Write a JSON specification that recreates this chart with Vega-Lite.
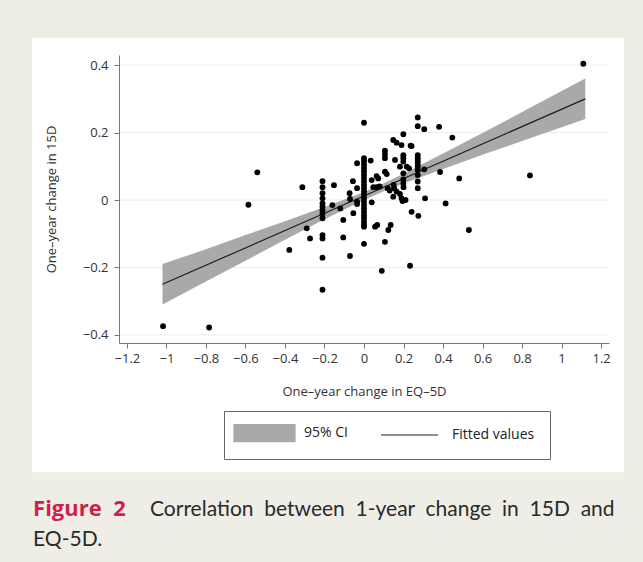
{
  "$schema": "https://vega.github.io/schema/vega-lite/v6.json",
  "autosize": {"type": "none"},
  "width": 490,
  "height": 288,
  "padding": {"left": 119, "top": 55, "right": 34, "bottom": 219},
  "background": "#eeeee6",
  "config": {
    "view": {"stroke": null},
    "axis": {"domainColor": "#777777", "tickColor": "#777777", "labelColor": "#333333", "titleColor": "#333333", "labelFont": "Open Sans", "titleFont": "Open Sans", "labelFontSize": 13, "titleFontSize": 13, "titleFontWeight": "normal", "tickSize": 5, "zindex": 1, "grid": false},
    "legend": {"labelFont": "Open Sans", "labelFontSize": 14, "labelColor": "#222222"}
  },
  "datasets": {
    "points": [
      {"x": -1.017, "y": -0.374}, {"x": -0.784, "y": -0.378}, {"x": -0.585, "y": -0.014}, {"x": -0.54, "y": 0.082},
      {"x": -0.378, "y": -0.148}, {"x": -0.312, "y": 0.038}, {"x": -0.29, "y": -0.084}, {"x": -0.273, "y": -0.114},
      {"x": 0.84, "y": 0.073}, {"x": 1.11, "y": 0.404}, {"x": 0.531, "y": -0.089}, {"x": 0.413, "y": -0.01},
      {"x": 0.482, "y": 0.064}, {"x": 0.447, "y": 0.185}, {"x": 0.385, "y": 0.083}, {"x": 0.38, "y": 0.217},
      {"x": -0.21, "y": 0.056}, {"x": -0.21, "y": 0.038}, {"x": -0.21, "y": 0.02}, {"x": -0.21, "y": 0.005},
      {"x": -0.21, "y": -0.01}, {"x": -0.21, "y": -0.02}, {"x": -0.21, "y": -0.03}, {"x": -0.21, "y": -0.04},
      {"x": -0.21, "y": -0.054}, {"x": -0.21, "y": -0.104}, {"x": -0.21, "y": -0.114}, {"x": -0.21, "y": -0.171},
      {"x": -0.21, "y": -0.266},
      {"x": -0.152, "y": 0.044}, {"x": -0.16, "y": -0.015}, {"x": -0.12, "y": -0.025}, {"x": -0.105, "y": -0.059},
      {"x": -0.105, "y": -0.111}, {"x": -0.071, "y": 0.003}, {"x": -0.073, "y": 0.02}, {"x": -0.056, "y": 0.056},
      {"x": -0.054, "y": -0.039}, {"x": -0.071, "y": -0.166}, {"x": -0.035, "y": -0.005}, {"x": -0.035, "y": -0.012},
      {"x": -0.035, "y": 0.109}, {"x": -0.035, "y": 0.035},
      {"x": 0, "y": 0.124}, {"x": 0, "y": 0.115}, {"x": 0, "y": 0.105}, {"x": 0, "y": 0.095}, {"x": 0, "y": 0.085},
      {"x": 0, "y": 0.075}, {"x": 0, "y": 0.065}, {"x": 0, "y": 0.055}, {"x": 0, "y": 0.045}, {"x": 0, "y": 0.035},
      {"x": 0, "y": 0.025}, {"x": 0, "y": 0.015}, {"x": 0, "y": 0.005}, {"x": 0, "y": -0.005}, {"x": 0, "y": -0.015},
      {"x": 0, "y": -0.025}, {"x": 0, "y": -0.035}, {"x": 0, "y": -0.045}, {"x": 0, "y": -0.054}, {"x": 0, "y": -0.064},
      {"x": 0, "y": -0.072}, {"x": 0, "y": -0.079}, {"x": 0, "y": -0.13}, {"x": 0, "y": 0.229},
      {"x": 0.034, "y": 0.117}, {"x": 0.039, "y": 0.059}, {"x": 0.047, "y": 0.038}, {"x": 0.039, "y": -0.007},
      {"x": 0.064, "y": 0.071}, {"x": 0.072, "y": 0.064}, {"x": 0.064, "y": 0.038}, {"x": 0.079, "y": 0.04},
      {"x": 0.056, "y": -0.079}, {"x": 0.067, "y": -0.074}, {"x": 0.106, "y": 0.146}, {"x": 0.106, "y": 0.135},
      {"x": 0.106, "y": 0.124}, {"x": 0.106, "y": 0.084}, {"x": 0.115, "y": 0.077}, {"x": 0.12, "y": 0.035},
      {"x": 0.13, "y": 0.028}, {"x": 0.123, "y": -0.089}, {"x": 0.135, "y": -0.074}, {"x": 0.106, "y": -0.124},
      {"x": 0.09, "y": -0.21}, {"x": 0.148, "y": 0.178}, {"x": 0.165, "y": 0.17}, {"x": 0.19, "y": 0.163},
      {"x": 0.157, "y": 0.119}, {"x": 0.153, "y": 0.035}, {"x": 0.165, "y": 0.025}, {"x": 0.182, "y": 0.018},
      {"x": 0.148, "y": 0.01}, {"x": 0.182, "y": 0.099}, {"x": 0.216, "y": 0.099}, {"x": 0.199, "y": 0.195},
      {"x": 0.199, "y": 0.133}, {"x": 0.199, "y": 0.124}, {"x": 0.199, "y": 0.114}, {"x": 0.199, "y": 0.079},
      {"x": 0.199, "y": 0.061}, {"x": 0.199, "y": 0.049}, {"x": 0.19, "y": 0.005}, {"x": 0.195, "y": -0.003},
      {"x": 0.21, "y": 0.0}, {"x": 0.241, "y": 0.16}, {"x": 0.233, "y": -0.195}, {"x": 0.241, "y": -0.035},
      {"x": 0.272, "y": 0.245}, {"x": 0.272, "y": 0.219}, {"x": 0.305, "y": 0.21}, {"x": 0.272, "y": 0.133},
      {"x": 0.272, "y": 0.124}, {"x": 0.272, "y": 0.115}, {"x": 0.272, "y": 0.107}, {"x": 0.272, "y": 0.099},
      {"x": 0.272, "y": 0.089}, {"x": 0.272, "y": 0.074}, {"x": 0.272, "y": 0.055}, {"x": 0.272, "y": 0.035},
      {"x": 0.275, "y": -0.047}, {"x": 0.305, "y": 0.091}, {"x": 0.309, "y": 0.005}, {"x": 0.228, "y": 0.094},
      {"x": 0.236, "y": 0.161}, {"x": 0.15, "y": 0.045}, {"x": 0.2, "y": 0.038}
    ],
    "band": [
      {"x": -1.02, "lo": -0.31, "hi": -0.19, "series": "95% CI"},
      {"x": -0.8, "lo": -0.242, "hi": -0.146, "series": "95% CI"},
      {"x": -0.6, "lo": -0.18, "hi": -0.104, "series": "95% CI"},
      {"x": -0.4, "lo": -0.118, "hi": -0.063, "series": "95% CI"},
      {"x": -0.2, "lo": -0.057, "hi": -0.021, "series": "95% CI"},
      {"x": 0, "lo": 0.0, "hi": 0.024, "series": "95% CI"},
      {"x": 0.1, "lo": 0.026, "hi": 0.05, "series": "95% CI"},
      {"x": 0.2, "lo": 0.049, "hi": 0.078, "series": "95% CI"},
      {"x": 0.4, "lo": 0.092, "hi": 0.138, "series": "95% CI"},
      {"x": 0.6, "lo": 0.134, "hi": 0.199, "series": "95% CI"},
      {"x": 0.8, "lo": 0.175, "hi": 0.261, "series": "95% CI"},
      {"x": 1.0, "lo": 0.216, "hi": 0.323, "series": "95% CI"},
      {"x": 1.12, "lo": 0.24, "hi": 0.36, "series": "95% CI"}
    ],
    "fit": [
      {"x": -1.02, "y": -0.25, "series": "Fitted values"},
      {"x": 1.12, "y": 0.3, "series": "Fitted values"}
    ],
    "grid": [{"g": -0.4}, {"g": -0.2}, {"g": 0}, {"g": 0.2}, {"g": 0.4}],
    "one": [{}]
  },
  "layer": [
    {
      "data": {"name": "one"},
      "mark": {"type": "rect", "fill": "#ffffff", "clip": false},
      "encoding": {
        "x": {"datum": -1.68, "type": "quantitative", "scale": {"domain": [-1.24, 1.24], "nice": false, "zero": false},
          "axis": {"values": [-1.2, -1, -0.8, -0.6, -0.4, -0.2, 0, 0.2, 0.4, 0.6, 0.8, 1, 1.2], "format": "~g", "title": "One–year change in EQ–5D", "labelPadding": 4, "titlePadding": 20, "zindex": 2}},
        "x2": {"datum": 1.316},
        "y": {"datum": 0.4804, "type": "quantitative", "scale": {"domain": [-0.424, 0.43], "nice": false, "zero": false},
          "axis": {"values": [-0.4, -0.2, 0, 0.2, 0.4], "format": "~g", "title": "One–year change in 15D", "labelPadding": 6, "titlePadding": 24, "zindex": 2}},
        "y2": {"datum": -0.807}
      }
    },
    {
      "data": {"name": "grid"},
      "mark": {"type": "rule", "color": "#ececec", "strokeWidth": 1},
      "encoding": {"y": {"field": "g", "type": "quantitative"}}
    },
    {
      "data": {"name": "band"},
      "mark": {"type": "area", "opacity": 1},
      "encoding": {
        "x": {"field": "x", "type": "quantitative"},
        "y": {"field": "lo", "type": "quantitative"},
        "y2": {"field": "hi"},
        "color": {"field": "series", "type": "nominal",
          "scale": {"domain": ["95% CI", "Fitted values"], "range": ["#a9a9a9", "#1e1e1e"]},
          "legend": {"title": null, "orient": "none", "legendX": 105, "legendY": 356, "direction": "horizontal",
            "padding": 15, "strokeColor": "#666666", "fillColor": "#ffffff", "cornerRadius": 0,
            "symbolSize": 100, "labelOffset": 51, "columnPadding": 30,
            "encode": {"symbols": {"update": {
              "shape": {"signal": "datum.label === '95% CI' ? 'M-2.4,-1.7H9.8V1.7H-2.4Z' : 'M-2.6,0H8.8'"},
              "fill": {"signal": "datum.label === '95% CI' ? '#a9a9a9' : 'transparent'"},
              "stroke": {"signal": "datum.label === '95% CI' ? 'transparent' : '#1e1e1e'"},
              "strokeWidth": {"value": 1.2},
              "opacity": {"value": 1}
            }}}}
        }
      }
    },
    {
      "data": {"name": "fit"},
      "mark": {"type": "line", "strokeWidth": 1.2},
      "encoding": {
        "x": {"field": "x", "type": "quantitative"},
        "y": {"field": "y", "type": "quantitative"},
        "color": {"field": "series", "type": "nominal",
          "legend": {"title": null, "orient": "none", "legendX": 105, "legendY": 356, "direction": "horizontal",
            "padding": 15, "strokeColor": "#666666", "fillColor": "#ffffff", "cornerRadius": 0,
            "symbolSize": 100, "labelOffset": 51, "columnPadding": 30,
            "encode": {"symbols": {"update": {
              "shape": {"signal": "datum.label === '95% CI' ? 'M-2.4,-1.7H9.8V1.7H-2.4Z' : 'M-2.6,0H8.8'"},
              "fill": {"signal": "datum.label === '95% CI' ? '#a9a9a9' : 'transparent'"},
              "stroke": {"signal": "datum.label === '95% CI' ? 'transparent' : '#1e1e1e'"},
              "strokeWidth": {"value": 1.2},
              "opacity": {"value": 1}
            }}}}
        }
      }
    },
    {
      "data": {"name": "points"},
      "mark": {"type": "circle", "size": 34, "color": "#000000", "opacity": 1},
      "encoding": {
        "x": {"field": "x", "type": "quantitative"},
        "y": {"field": "y", "type": "quantitative"}
      }
    },
    {
      "data": {"name": "one"},
      "mark": {"type": "text", "text": "Figure\u00a0\u00a02", "font": "Open Sans", "fontSize": 22, "fontWeight": "bold", "color": "#d01f4a", "align": "left", "baseline": "alphabetic", "clip": false},
      "encoding": {"x": {"datum": -1.675, "type": "quantitative"}, "y": {"datum": -0.936, "type": "quantitative"}}
    },
    {
      "data": {"name": "one"},
      "mark": {"type": "text", "text": "Correlation\u00a0 between\u00a0 1-year\u00a0 change\u00a0 in\u00a0 15D\u00a0 and", "font": "Lato", "fontSize": 21, "color": "#2a2a2a", "align": "left", "baseline": "alphabetic", "clip": false},
      "encoding": {"x": {"datum": -1.083, "type": "quantitative"}, "y": {"datum": -0.936, "type": "quantitative"}}
    },
    {
      "data": {"name": "one"},
      "mark": {"type": "text", "text": "EQ-5D.", "font": "Lato", "fontSize": 21, "color": "#2a2a2a", "align": "left", "baseline": "alphabetic", "clip": false},
      "encoding": {"x": {"datum": -1.675, "type": "quantitative"}, "y": {"datum": -1.025, "type": "quantitative"}}
    }
  ]
}
